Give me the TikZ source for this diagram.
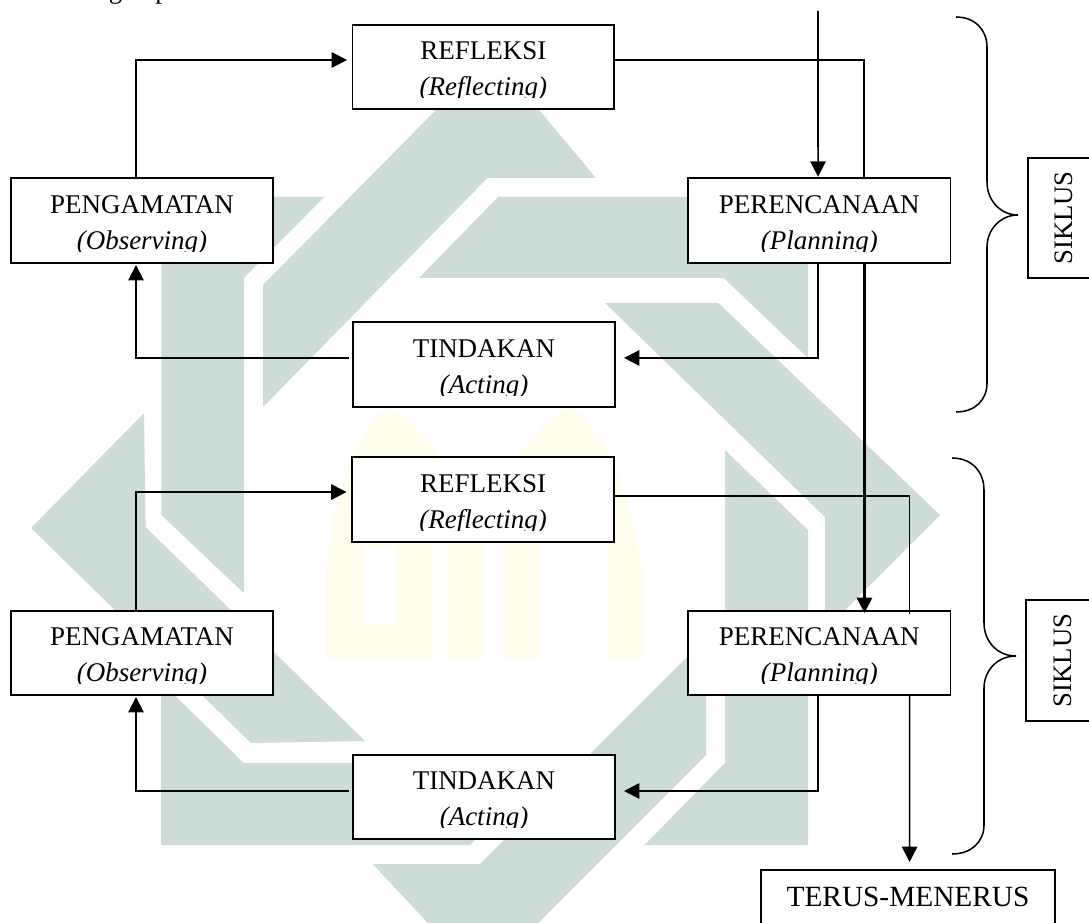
\documentclass[tikz,border=0pt]{standalone}
\usepackage{fontspec}
\setmainfont{Liberation Serif}
\usetikzlibrary{arrows.meta}
\definecolor{wmgreen}{HTML}{CDDDD5}
\definecolor{wmyellow}{HTML}{FFFEEC}
\tikzset{
  wmband/.style={fill=wmgreen,draw=none},
  flowbox/.style={draw=black,fill=white,line width=1.3pt,inner sep=0pt,outer sep=0pt,align=center,
    font=\fontsize{20.25}{27}\selectfont},
  cyclebox/.style={draw=black,fill=white,line width=1.3pt,inner sep=0pt,outer sep=0pt,rotate=90,
    font=\fontsize{20}{24}\selectfont},
  headtip/.style={-{Triangle[length=11.6pt,width=11.6pt]}},
  link/.style={line width=1.4pt,headtip},
  thinlink/.style={line width=1.1pt,headtip},
  heavylink/.style={line width=1.6pt,headtip},
  plainlink/.style={line width=1.4pt},
  thinplain/.style={line width=1.1pt},
  bracket/.style={line width=1.15pt},
}
% name, left, top, right, bottom, first line, second line
\newcommand{\flowblock}[7]{%
  \pgfmathsetmacro{\cx}{(#2+#4)/2}\pgfmathsetmacro{\cy}{(#3+#5)/2}%
  \pgfmathsetmacro{\bw}{(#4-#2)*0.75}\pgfmathsetmacro{\bh}{(#5-#3)*0.75}%
  \node[flowbox,minimum width=\bw pt,minimum height=\bh pt] (#1) at (\cx,\cy)
    {\rule{0pt}{20.2pt}#6\\\textit{#7}};
  \pgfmathsetmacro{\sl}{#2+1.2}\pgfmathsetmacro{\sr}{#4-1.2}%
  \pgfmathsetmacro{\st}{#5-10.8}\pgfmathsetmacro{\sb}{#5-1.2}%
  \fill[white] (\sl,\st) rectangle (\sr,\sb);
}
\begin{document}
\begin{tikzpicture}[x=0.75pt,y=-0.75pt]
\useasboundingbox (0,0) rectangle (1089,923);
\fill[white] (0,0) rectangle (1089,923);
% watermark: pale yellow arches
\fill[wmyellow] (326,658) -- (326,570) .. controls (335,480) and (365,420) .. (388,408)
  .. controls (420,420) and (450,470) .. (484,520)
  .. controls (505,470) and (540,420) .. (570,408)
  .. controls (600,420) and (630,490) .. (642,570) -- (642,658) -- cycle;
\fill[white] (363,547) rectangle (397,623);
\fill[white] (433,545) rectangle (447,658);
\fill[white] (483,545) rectangle (503,658);
\fill[white] (540,545) rectangle (607,658);
% watermark: green bands
\fill[wmband] (273.6,197) -- (324.4,197) -- (243.8,278) -- (243.8,593) -- (161.3,515) -- (161.3,197) -- cycle;
\fill[wmband] (263,285) -- (435,111) -- (482,64) -- (540,111) -- (596,178) -- (487.5,178) -- (263,407) -- cycle;
\fill[wmband] (498,197) -- (808,197) -- (808,358) -- (723.6,278) -- (419,278) -- cycle;
\fill[wmband] (605,303) -- (718.4,303) -- (940,515) -- (825,630) -- (825,517) -- cycle;
\fill[wmband] (725,450) -- (808,530) -- (808,845) -- (644.5,845) -- (725,763) -- cycle;
\fill[wmband] (372.7,864) -- (480,864) -- (706,638) -- (706,755) -- (538,923) -- (428,923) -- cycle;
\fill[wmband] (31,528) -- (144,413) -- (145.6,527) -- (365,741) -- (251,743) -- cycle;
\fill[wmband] (161,682) -- (243.8,763) -- (552,763) -- (470,845) -- (161,845) -- cycle;
% clipped line of the running text above the figure
\node[anchor=base,inner sep=0pt,font=\fontsize{20.25}{24}\selectfont] (topg) at (115.5,-1) {g};
\node[anchor=base,inner sep=0pt,font=\fontsize{20.25}{24}\selectfont] (topp) at (162,-1) {p};
% boxes
\flowblock{R1}{352.5}{25}{614}{109}{REFLEKSI}{(Reflecting)}
\flowblock{P1}{11}{178}{273}{263}{PENGAMATAN}{(Observing)}
\flowblock{PR1}{688}{178}{950.5}{263}{PERENCANAAN}{(Planning)}
\flowblock{T1}{353}{322}{615}{407}{TINDAKAN}{(Acting)}
\flowblock{R2}{352}{457}{614}{542}{REFLEKSI}{(Reflecting)}
\flowblock{P2}{11}{611}{273}{695}{PENGAMATAN}{(Observing)}
\flowblock{PR2}{688}{611}{950.5}{695}{PERENCANAAN}{(Planning)}
\flowblock{T2}{353}{755}{615}{839}{TINDAKAN}{(Acting)}
\node[flowbox,font=\fontsize{22}{26}\selectfont,minimum width=220.5pt,minimum height=75pt] (TM) at (908,920)
  {\rule[-35pt]{0pt}{35pt}TERUS-MENERUS};
\node[cyclebox,minimum width=90pt,minimum height=54pt] (S1) at (1064,218) {SIKLUS};
\node[cyclebox,minimum width=90.75pt,minimum height=54.75pt] (S2) at (1062.5,660.5) {SIKLUS};
% connectors, first cycle
\coordinate (entry) at (818,11);
\draw[link,shorten >=4.1pt] ([xshift=-4.7pt]P1.north) |- ([yshift=5.25pt]R1.west);
\draw[plainlink] ([yshift=5.25pt]R1.east) -| ([xshift=33.6pt]PR1.north);
\draw[line width=1.2pt,headtip,shorten >=0.9pt] (entry) -- ([xshift=-0.9pt]PR1.north);
\draw[link,shorten >=6.75pt] ([xshift=-0.9pt]PR1.south) |- ([yshift=4.9pt]T1.east);
\draw[link,shorten <=3pt,shorten >=1.5pt] ([yshift=4.9pt]T1.west) -| ([xshift=-4.5pt]P1.south);
% connectors, second cycle
\draw[heavylink,shorten >=-1.5pt] ([xshift=33.9pt]PR1.south) -- ([xshift=33.9pt]PR2.north);
\draw[thinplain,shorten >=-2pt] ([yshift=2.6pt]R2.east) -| ([xshift=67.8pt]PR2.north);
\draw[link,shorten >=4.1pt] ([xshift=-4.7pt]P2.north) |- ([yshift=5.6pt]R2.west);
\draw[link,shorten >=6.75pt] ([xshift=-0.9pt]PR2.south) |- ([yshift=4.5pt]T2.east);
\draw[link,shorten <=3pt,shorten >=1.5pt] ([yshift=4.5pt]T2.west) -| ([xshift=-4.5pt]P2.south);
\draw[thinlink,shorten >=6pt] ([xshift=67.8pt]PR2.south) -- ([xshift=1.2pt]TM.north);
% braces
\draw[bracket] (956,17) .. controls (975,17) and (987,30) .. (987,47) -- (987,182)
  .. controls (987,200) and (1000,215) .. (1018,215)
  .. controls (1000,215) and (987,230) .. (987,247) -- (987,383)
  .. controls (987,400) and (975,412) .. (956,412);
\draw[bracket] (952,458) .. controls (971,458) and (984,471) .. (984,490) -- (984,623)
  .. controls (984,641) and (997,656) .. (1016,656)
  .. controls (997,656) and (984,671) .. (984,688) -- (984,825)
  .. controls (984,842) and (971,854) .. (952,854);
\end{tikzpicture}
\end{document}
